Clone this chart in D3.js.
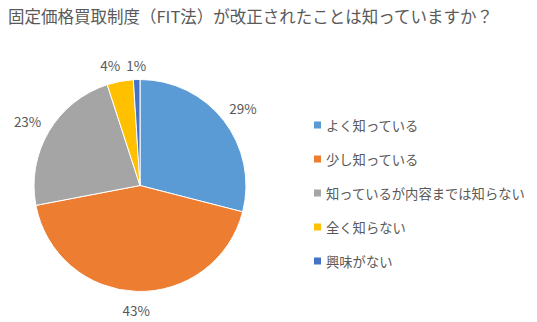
<!DOCTYPE html>
<html>
<head>
<meta charset="utf-8">
<script src="https://cdn.jsdelivr.net/npm/d3@7/dist/d3.min.js"></script>
<style>
  html, body { margin: 0; padding: 0; background: #fff; }
  svg { display: block; }
  text { font-family: "Noto Sans CJK JP", "Noto Sans", sans-serif; fill: #595959; }
</style>
</head>
<body>
<svg id="chart" width="537" height="322"></svg>
<script>
// Survey: awareness of the revised FIT law
const title = "固定価格買取制度（FIT法）が改正されたことは知っていますか？";
const categories = ["よく知っている", "少し知っている", "知っているが内容までは知らない", "全く知らない", "興味がない"];
const shares = [29, 43, 23, 4, 1];
const colors = ["#5B9BD5", "#ED7D31", "#A5A5A5", "#FFC000", "#4472C4"];

const svg = d3.select("#chart");
const cx = 140, cy = 185.5, r = 106;

svg.append("text")
  .attr("x", 8).attr("y", 23)
  .attr("font-size", 16.5)
  .text(title);

const data = categories.map((c, i) => ({ name: c, value: shares[i], color: colors[i] }));

const pie = d3.pie().sort(null).value(d => d.value);
const arcs = pie(data);
const arc = d3.arc().innerRadius(0).outerRadius(r);

const g = svg.append("g").attr("transform", `translate(${cx},${cy})`);

g.selectAll("path.slice")
  .data(arcs)
  .join("path")
  .attr("class", "slice")
  .attr("d", arc)
  .attr("fill", d => d.data.color)
  .attr("stroke", "#fff")
  .attr("stroke-width", 1);

// Percent labels sit just outside each slice, pushed out by half the text box
const fs = 13.5, gap = 9, halfH = 7.5;
const labels = g.selectAll("text.pct")
  .data(arcs)
  .join("text")
  .attr("class", "pct")
  .attr("font-size", fs)
  .attr("text-anchor", "middle")
  .attr("dominant-baseline", "central")
  .text(d => d.data.value + "%");

const boxes = [];
labels.each(function(d) {
  const a = (d.startAngle + d.endAngle) / 2;
  const s = Math.sin(a), c = Math.cos(a);
  const w = this.getComputedTextLength();
  const dist = r + gap + Math.abs(s) * w / 2 + Math.abs(c) * halfH;
  boxes.push({ el: this, x: s * dist, y: -c * dist + 2, w });
});
// keep neighbouring labels near the top from touching
for (let i = boxes.length - 1; i > 0; i--) {
  const a = boxes[i - 1], b = boxes[i];
  if (Math.abs(a.y - b.y) < halfH * 2) {
    const overlap = (a.x + a.w / 2 + 6) - (b.x - b.w / 2);
    if (overlap > 0) a.x -= overlap;
  }
}
boxes.forEach(b => d3.select(b.el).attr("x", b.x).attr("y", b.y));

// Legend
const legendY = d3.scalePoint().domain(categories).range([125, 261]);
const legend = svg.append("g");
const item = legend.selectAll("g")
  .data(data)
  .join("g")
  .attr("transform", d => `translate(314,${legendY(d.name)})`);
item.append("rect")
  .attr("x", 0).attr("y", -3.5)
  .attr("width", 7).attr("height", 7)
  .attr("fill", d => d.color);
item.append("text")
  .attr("x", 12).attr("y", 0)
  .attr("font-size", 13.3)
  .attr("dominant-baseline", "central")
  .text(d => d.name);
</script>
</body>
</html>
